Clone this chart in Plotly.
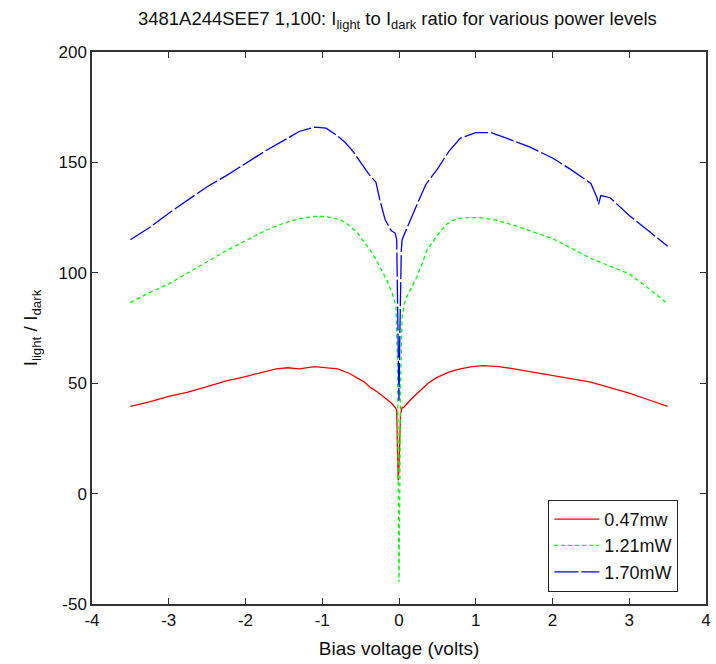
import plotly.graph_objects as go

red_x = [-3.5, -3.25, -3.0, -2.75, -2.5, -2.25, -2.0, -1.75, -1.6, -1.45, -1.3, -1.1, -0.95, -0.8, -0.65, -0.54, -0.45, -0.37, -0.28, -0.19, -0.1, -0.05, -0.03, -0.02, -0.01, 0.0, 0.01, 0.02, 0.04, 0.06, 0.15, 0.27, 0.38, 0.49, 0.65, 0.8, 0.95, 1.1, 1.3, 1.5, 1.75, 2.0, 2.25, 2.5, 2.75, 3.0, 3.25, 3.5]
red_y = [39.5, 41.5, 44, 46, 48.5, 51, 53, 55, 56.5, 57, 56.5, 57.5, 57, 56.5, 54.5, 52.5, 50.5, 48, 46, 43.5, 41, 39, 38, 20, 6, 12, 25, 36, 39, 39, 42.5, 46.6, 50, 52.5, 55, 56.5, 57.5, 58, 57.5, 56.5, 55, 53.5, 52, 50.5, 48, 45.5, 42.5, 39.5]

green_x = [-3.5, -3.25, -3.0, -2.75, -2.5, -2.25, -2.0, -1.75, -1.5, -1.3, -1.1, -0.95, -0.76, -0.65, -0.54, -0.45, -0.37, -0.3, -0.24, -0.15, -0.07, -0.04, -0.02, -0.01, 0.0, 0.01, 0.02, 0.04, 0.07, 0.1, 0.16, 0.23, 0.3, 0.36, 0.5, 0.62, 0.75, 0.9, 1.05, 1.25, 1.5, 1.75, 2.0, 2.25, 2.5, 2.75, 3.0, 3.25, 3.5]
green_y = [86.5, 91, 95, 100, 105, 110, 114.5, 119, 122.5, 124.5, 125.5, 125.5, 124, 121.5, 118, 114, 110, 106, 102, 96, 89, 85, 60, 10, -40, 0, 50, 80, 86, 89, 93, 98, 104, 110, 117, 122, 124.5, 125, 125, 124, 121.5, 118.5, 115.5, 111, 106.5, 103, 99.5, 93, 86]

blue_x = [-3.5, -3.25, -3.0, -2.75, -2.5, -2.25, -2.0, -1.75, -1.5, -1.3, -1.1, -0.95, -0.8, -0.7, -0.6, -0.5, -0.4, -0.3, -0.25, -0.18, -0.1, -0.05, -0.03, -0.02, -0.01, 0.0, 0.01, 0.02, 0.03, 0.04, 0.1, 0.19, 0.26, 0.35, 0.5, 0.65, 0.8, 1.0, 1.2, 1.4, 1.7, 2.0, 2.25, 2.5, 2.58, 2.6, 2.63, 2.75, 3.0, 3.25, 3.5]
blue_y = [115, 120.5, 127, 133, 139, 144, 149.5, 155, 160, 164, 166, 165.5, 162, 159, 155, 150, 145, 141, 133, 124, 119, 118, 115, 90, 60, 42, 70, 95, 110, 115, 120, 128, 133, 140, 147, 155, 161, 163.5, 163.5, 161, 157, 152, 146.5, 140.5, 134, 131, 135, 134, 126, 119, 112]

series_names = ["0.47mw", "1.21mW", "1.70mW"]

x_ticks = [-4, -3, -2, -1, 0, 1, 2, 3, 4]
x_tick_labels = ["-4", "-3", "-2", "-1", "0", "1", "2", "3", "4"]
y_ticks = [-50, 0, 50, 100, 150, 200]
y_tick_labels = ["-50", "0", "50", "100", "150", "200"]

FONT = "Liberation Sans, Arial, sans-serif"

fig = go.Figure()
fig.add_trace(go.Scatter(x=red_x, y=red_y, mode="lines", name=series_names[0],
                         line=dict(color="#ff0000", width=1.3)))
fig.add_trace(go.Scatter(x=green_x, y=green_y, mode="lines", name=series_names[1],
                         line=dict(color="#00ff00", width=1.3, dash="4px,3px")))
fig.add_trace(go.Scatter(x=blue_x, y=blue_y, mode="lines", name=series_names[2],
                         line=dict(color="#0000ff", width=1.3, dash="24px,3px")))

axis_common = dict(showgrid=False, zeroline=False, showline=True, linecolor="#333333",
                   linewidth=1.5, mirror="ticks", ticks="inside", ticklen=6,
                   tickcolor="#333333",
                   tickfont=dict(family=FONT, size=17, color="#111111"))

fig.update_layout(
    width=716, height=664,
    margin=dict(l=92, r=5, t=52, b=60),
    plot_bgcolor="white", paper_bgcolor="white",
    font=dict(family=FONT, size=17, color="#111111"),
    title=dict(text="3481A244SEE7 1,100: I<sub>light</sub> to I<sub>dark</sub> ratio for various power levels",
               x=0.555, xanchor="center", y=0.972, yanchor="middle",
               font=dict(family=FONT, size=18.5, color="#111111")),
    xaxis=dict(range=[-4, 4], tickvals=x_ticks, ticktext=x_tick_labels,
               title=dict(text="Bias voltage (volts)", standoff=13,
                          font=dict(family=FONT, size=19, color="#111111")),
               **axis_common),
    yaxis=dict(range=[-50, 200], tickvals=y_ticks, ticktext=y_tick_labels,
               title=dict(text="I<sub>light</sub> / I<sub>dark</sub>", standoff=16,
                          font=dict(family=FONT, size=19, color="#111111")),
               **axis_common),
    legend=dict(x=0.955, y=0.022, xanchor="right", yanchor="bottom",
                bordercolor="#222222", borderwidth=1, bgcolor="white",
                font=dict(family=FONT, size=18, color="#111111"),
                tracegroupgap=0, itemwidth=45),
    showlegend=True,
)

fig.write_html("out.html")
